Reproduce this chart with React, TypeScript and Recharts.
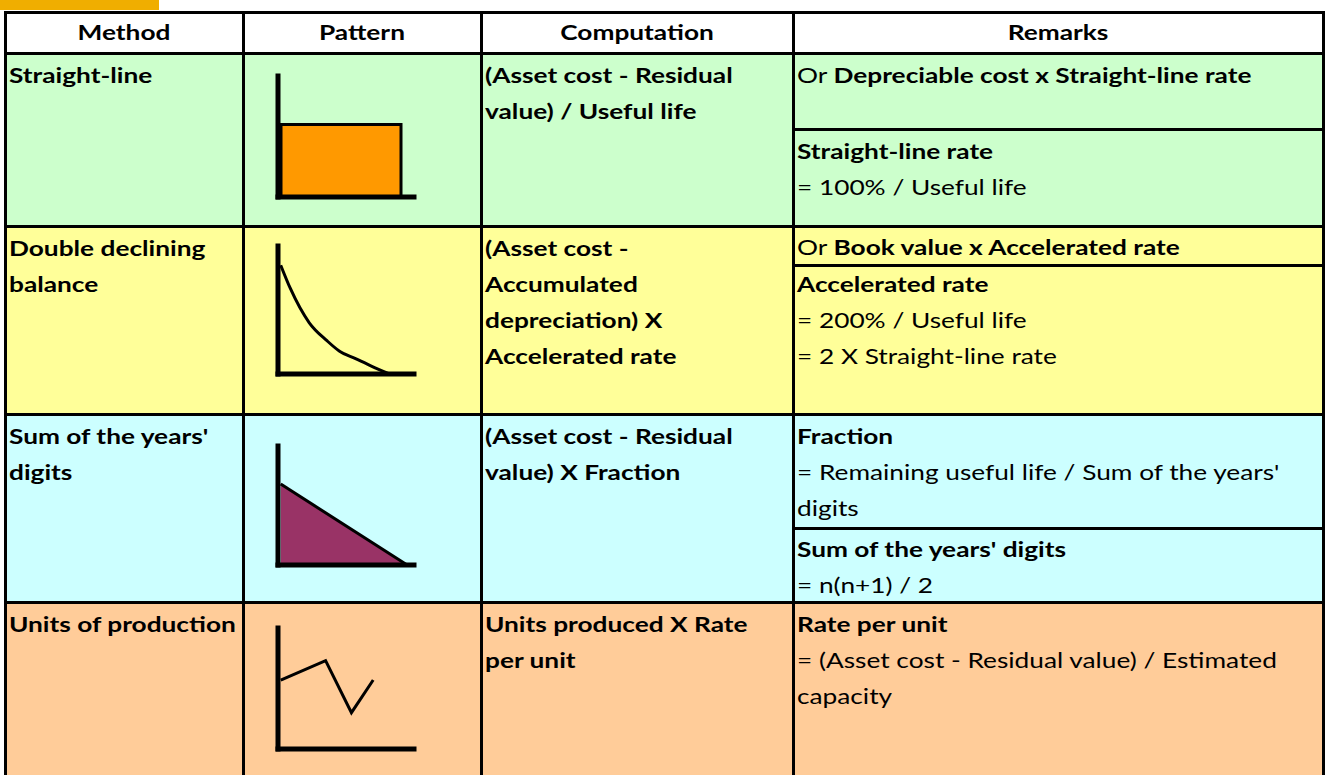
import { BarChart, Bar, LineChart, Line, AreaChart, Area, XAxis, YAxis } from "recharts";

// pattern sketches (x and y both on a 0-100 scale)
const straightLine = [{ period: "life", charge: 60 }];
const decliningBalance = [
  { x: 2, y: 85 },
  { x: 9, y: 67 },
  { x: 23, y: 40 },
  { x: 36, y: 26 },
  { x: 45, y: 18 },
  { x: 57, y: 12 },
  { x: 69, y: 6 },
  { x: 82, y: 0 },
];
const sumOfYears = [
  { x: 2, y: 68 },
  { x: 95, y: 0 },
];
const unitsOfProduction = [
  { x: 2, y: 57 },
  { x: 35, y: 73 },
  { x: 54, y: 30 },
  { x: 70, y: 57 },
];

const headers = ["Method", "Pattern", "Computation", "Remarks"];
const methods = [["Straight-line"], ["Double declining", "balance"], ["Sum of the years'", "digits"], ["Units of production"]];
const computations = [
  ["(Asset cost - Residual", "value) / Useful life"],
  ["(Asset cost -", "Accumulated", "depreciation) X", "Accelerated rate"],
  ["(Asset cost - Residual", "value) X Fraction"],
  ["Units produced X Rate", "per unit"],
];

const COLS = [5, 243, 481, 793, 1323];
const HEAD_TOP = 12;
const ROWS = [53, 226, 414, 602, 780];
const SUB_LINES = [129, 265, 528];
const FILLS = ["#CCFFCC", "#FFFF99", "#CCFFFF", "#FFCC99"];
const FONT = "Lato, 'Open Sans', sans-serif";
const STRETCH = "scaleX(1.25)";

const axisLine = { stroke: "#000", strokeWidth: 5, strokeLinecap: "square" as const };
const AX = 2; // axis band size
const M = { top: 8, right: 4, bottom: 6 - AX, left: 8 - AX };

function frame(axisTop: number, axisBottom: number) {
  return {
    left: 278 - 8,
    top: axisTop - M.top,
    width: 8 + (414 - 278) + M.right,
    height: M.top + (axisBottom - axisTop) + 6,
  };
}

function Sketch({ f, children }: { f: ReturnType<typeof frame>; children: React.ReactNode }) {
  return <div style={{ position: "absolute", left: f.left, top: f.top }}>{children}</div>;
}

const yAxis = <YAxis type="number" domain={[0, 100]} width={AX} tick={false} tickLine={false} axisLine={axisLine} />;
const xNum = (
  <XAxis type="number" dataKey="x" domain={[0, 100]} height={AX} tick={false} tickLine={false} axisLine={axisLine} />
);

function Cell({ x, y, lines }: { x: number; y: number; lines: React.ReactNode[] }) {
  return (
    <div
      style={{
        position: "absolute",
        left: x + 4,
        top: y + 4,
        lineHeight: "36px",
        fontWeight: 700,
        whiteSpace: "nowrap",
        transform: STRETCH,
        transformOrigin: "left top",
      }}
    >
      {lines.map((l, i) => (
        <div key={i}>{l}</div>
      ))}
    </div>
  );
}

export default function App() {
  const f1 = frame(76, 197);
  const f2 = frame(246, 374);
  const f3 = frame(446, 565);
  const f4 = frame(628, 749);
  const lineW = 3;
  const reg = (t: string) => <span style={{ fontWeight: 400 }}>{t}</span>;

  return (
    <div
      style={{
        position: "absolute",
        left: 0,
        top: 0,
        width: 1326,
        height: 775,
        overflow: "hidden",
        background: "#fff",
        fontFamily: FONT,
        fontSize: 21,
        color: "#000",
      }}
    >
      <div style={{ position: "absolute", left: 0, top: 0, width: 159, height: 10, background: "#F0AE00" }} />

      {/* row fills */}
      {FILLS.map((c, i) => (
        <div
          key={c}
          style={{ position: "absolute", left: COLS[0], top: ROWS[i], width: COLS[4] - COLS[0], height: ROWS[i + 1] - ROWS[i], background: c }}
        />
      ))}

      {/* header */}
      {headers.map((h, i) => (
        <div
          key={h}
          style={{
            position: "absolute",
            left: COLS[i],
            top: HEAD_TOP,
            width: COLS[i + 1] - COLS[i],
            height: ROWS[0] - HEAD_TOP,
            lineHeight: `${ROWS[0] - HEAD_TOP - 2}px`,
            textAlign: "center",
            fontWeight: 700,
            transform: STRETCH,
            transformOrigin: "center",
          }}
        >
          {h}
        </div>
      ))}

      {methods.map((m, i) => (
        <Cell key={i} x={COLS[0]} y={ROWS[i]} lines={m} />
      ))}
      {computations.map((c, i) => (
        <Cell key={i} x={COLS[2]} y={ROWS[i]} lines={c} />
      ))}

      {/* remarks */}
      <Cell x={COLS[3]} y={ROWS[0]} lines={[<>{reg("Or ")}Depreciable cost x Straight-line rate</>]} />
      <Cell x={COLS[3]} y={SUB_LINES[0]} lines={["Straight-line rate", reg("= 100% / Useful life")]} />
      <Cell x={COLS[3]} y={ROWS[1] - 1} lines={[<>{reg("Or ")}Book value x Accelerated rate</>]} />
      <Cell x={COLS[3]} y={SUB_LINES[1] - 3} lines={["Accelerated rate", reg("= 200% / Useful life"), reg("= 2 X Straight-line rate")]} />
      <Cell
        x={COLS[3]}
        y={ROWS[2]}
        lines={["Fraction", reg("= Remaining useful life / Sum of the years'"), reg("digits")]}
      />
      <Cell x={COLS[3]} y={SUB_LINES[2] - 1} lines={["Sum of the years' digits", reg("= n(n+1) / 2")]} />
      <Cell
        x={COLS[3]}
        y={ROWS[3]}
        lines={["Rate per unit", reg("= (Asset cost - Residual value) / Estimated"), reg("capacity")]}
      />

      {/* grid lines */}
      {[HEAD_TOP, ...ROWS.slice(0, 4)].map((y) => (
        <div key={y} style={{ position: "absolute", left: COLS[0] - 1.5, top: y - 1.5, width: COLS[4] - COLS[0] + 3, height: 3, background: "#000" }} />
      ))}
      {SUB_LINES.map((y) => (
        <div key={y} style={{ position: "absolute", left: COLS[3], top: y - 1.5, width: COLS[4] - COLS[3], height: 3, background: "#000" }} />
      ))}
      {COLS.map((x) => (
        <div key={x} style={{ position: "absolute", left: x - 1.5, top: HEAD_TOP - 1.5, width: 3, height: 800, background: "#000" }} />
      ))}

      {/* pattern sketches */}
      <Sketch f={f1}>
        <BarChart width={f1.width} height={f1.height} data={straightLine} margin={M} barCategoryGap={0}>
          <XAxis dataKey="period" height={AX} tick={false} tickLine={false} axisLine={axisLine} padding={{ left: 3, right: 13 }} />
          {yAxis}
          <Bar dataKey="charge" fill="#FF9900" stroke="#000" strokeWidth={lineW} isAnimationActive={false} />
        </BarChart>
      </Sketch>
      <Sketch f={f2}>
        <LineChart width={f2.width} height={f2.height} data={decliningBalance} margin={M}>
          {xNum}
          {yAxis}
          <Line type="monotone" dataKey="y" stroke="#000" strokeWidth={lineW} dot={false} isAnimationActive={false} />
        </LineChart>
      </Sketch>
      <Sketch f={f3}>
        <AreaChart width={f3.width} height={f3.height} data={sumOfYears} margin={M}>
          {xNum}
          {yAxis}
          <Area type="linear" dataKey="y" fill="#993366" fillOpacity={1} stroke="#000" strokeWidth={lineW} isAnimationActive={false} />
        </AreaChart>
      </Sketch>
      <Sketch f={f4}>
        <LineChart width={f4.width} height={f4.height} data={unitsOfProduction} margin={M}>
          {xNum}
          {yAxis}
          <Line type="linear" dataKey="y" stroke="#000" strokeWidth={lineW} dot={false} isAnimationActive={false} />
        </LineChart>
      </Sketch>
    </div>
  );
}
